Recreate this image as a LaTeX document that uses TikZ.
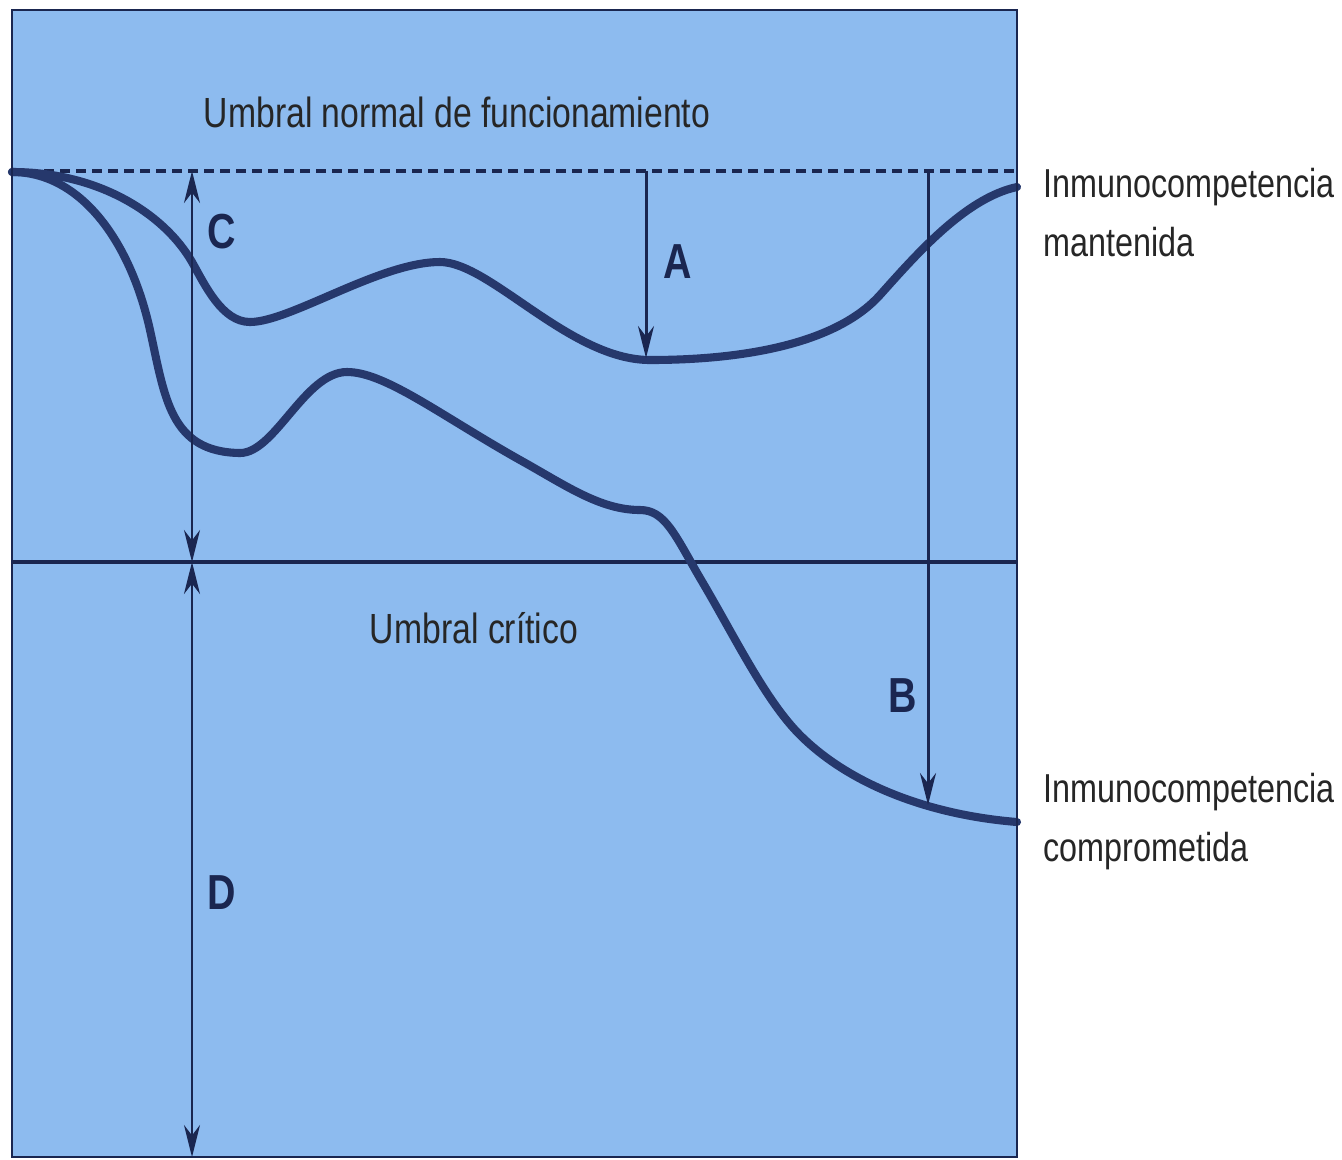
\documentclass[tikz,border=0pt]{standalone}
\usepackage{fontspec}
\setmainfont{Liberation Sans}[FakeStretch=0.8]
\usetikzlibrary{arrows.meta}

\definecolor{bgblue}{RGB}{141,187,239}
\definecolor{inkblue}{RGB}{26,38,80}
\definecolor{curveblue}{RGB}{38,56,108}

\tikzset{
  level/.style={draw=inkblue, line width=1.2pt},
  gap/.style={draw=inkblue, line width=0.85pt},
  curve/.style={draw=curveblue, line width=2.3pt, line cap=round},
  letter/.style={font=\fontsize{14}{16}\selectfont\bfseries, text=inkblue},
  label/.style={font=\fontsize{12}{14}\selectfont, text=black!85},
  sidelabel/.style={font=\fontsize{11.5}{16.8}\selectfont, text=black!85,
                    align=left, anchor=west, inner sep=0pt},
}

\begin{document}
\begin{tikzpicture}[x=0.1mm, y=-0.1mm, >={Stealth[length=3.2mm,width=1.6mm]}]
  \useasboundingbox (0,0) rectangle (1342,1159);

  % panel
  \fill[bgblue] (12,10) rectangle (1017,1157);

  % thresholds
  \coordinate (nl) at (12,171);
  \coordinate (nr) at (1017,171);
  \coordinate (cl) at (12,562);
  \coordinate (cr) at (1017,562);
  \draw[draw=inkblue, line width=1.1pt, dash pattern=on 1mm off 0.6mm] (nl) -- (nr);
  \draw[level] (cl) -- (cr);

  % arrow ends
  \coordinate (ctop) at (192,171);
  \coordinate (cbot) at (192,562);
  \coordinate (dbot) at (192,1157);
  \coordinate (atop) at (646,171);
  \coordinate (abot) at (646,358);
  \coordinate (btop) at (928,171);
  \coordinate (bbot) at (928,805);

  % curves
  \draw[curve] (12,172) .. controls (100,172) and (165,215) .. (192,262)
    .. controls (205,285) and (222,322) .. (250,322)
    .. controls (290,322) and (380,262) .. (440,262)
    .. controls (490,262) and (570,360) .. (650,360)
    .. controls (740,360) and (835,345) .. (880,295)
    .. controls (915,256) and (965,198) .. (1017,187);
  \draw[curve] (12,172) .. controls (80,172) and (130,240) .. (150,330)
    .. controls (165,398) and (170,452) .. (240,453)
    .. controls (275,453) and (305,372) .. (347,372)
    .. controls (385,372) and (440,415) .. (520,460)
    .. controls (565,485) and (600,510) .. (640,510)
    .. controls (665,510) and (675,535) .. (700,578)
    .. controls (735,637) and (765,700) .. (800,735)
    .. controls (850,785) and (930,815) .. (1017,822);

  % distances
  \draw[gap, <->] (ctop) -- (cbot);
  \draw[gap, <->] (cbot) -- (dbot);
  \draw[gap, ->] (atop) -- (abot);
  \draw[gap, ->] (btop) -- (bbot);

  \draw[inkblue, line width=0.7pt] (12,10) rectangle (1017,1157);

  % labels
  \node[label] (normal) at (457,112) {Umbral normal de funcionamiento};
  \node[label] (critico) at (474,628) {Umbral crítico};
  \node[letter] (lc) at (222,232) {C};
  \node[letter] (la) at (678,262) {A};
  \node[letter] (lb) at (903,696) {B};
  \node[letter] (ld) at (222,893) {D};
  \node[sidelabel] (mant) at (1043,213) {Inmunocompetencia\\mantenida};
  \node[sidelabel] (comp) at (1043,822) {Inmunocompetencia\\comprometida};
\end{tikzpicture}
\end{document}
